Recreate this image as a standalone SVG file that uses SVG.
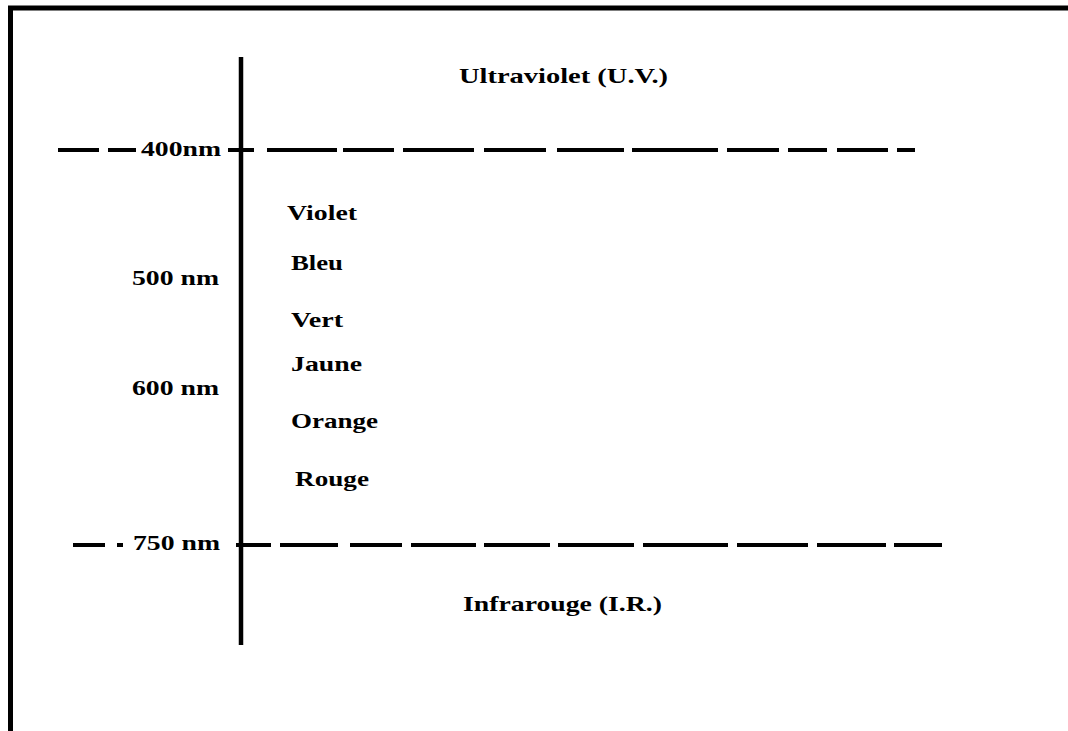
<svg xmlns="http://www.w3.org/2000/svg" width="1068" height="731" viewBox="0 0 1068 731">
<style>
.t{font-family:"Liberation Serif","Times New Roman",serif;font-weight:bold;font-size:22px;fill:#000}
.ln{stroke:#000;fill:none;stroke-linecap:butt}
</style>
<rect width="1068" height="731" fill="#fff"/>
<g id="frame">
<path class="ln" d="M10.5,731 V8 H1068" stroke-width="5"/>
</g>
<g id="connectors">
<path id="axis" class="ln" stroke-width="4.5" stroke-linecap="round" d="M241,57 V645"/>
<path id="line-400" class="ln" stroke-width="4" d="M58,150 H99 M108,150 H136 M228,150 H254 M267,150 H337 M343,150 H394 M403,150 H474 M484,150 H546 M557,150 H624 M632,150 H718 M727,150 H779 M788,150 H827 M837,150 H888 M897,150 H915"/>
<path id="line-750" class="ln" stroke-width="4" d="M73,545 H105 M117,545 H123 M236,545 H271 M280,545 H338 M350,545 H402 M411,545 H476 M484,545 H550 M558,545 H634 M643,545 H728 M737,545 H808 M817,545 H886 M894,545 H942"/>
</g>
<g id="uv"><text class="t" x="459" y="83" textLength="209" lengthAdjust="spacingAndGlyphs">Ultraviolet (U.V.)</text></g>
<g id="lbl-400"><text class="t" x="141" y="156" textLength="80" lengthAdjust="spacingAndGlyphs">400nm</text></g>
<g id="lbl-500"><text class="t" x="132" y="285" textLength="87" lengthAdjust="spacingAndGlyphs">500 nm</text></g>
<g id="lbl-600"><text class="t" x="132" y="395" textLength="87" lengthAdjust="spacingAndGlyphs">600 nm</text></g>
<g id="lbl-750"><text class="t" x="133" y="550" textLength="87" lengthAdjust="spacingAndGlyphs">750 nm</text></g>
<g id="violet"><text class="t" x="287" y="220" textLength="70" lengthAdjust="spacingAndGlyphs">Violet</text></g>
<g id="bleu"><text class="t" x="291" y="270" textLength="52" lengthAdjust="spacingAndGlyphs">Bleu</text></g>
<g id="vert"><text class="t" x="291" y="327" textLength="52" lengthAdjust="spacingAndGlyphs">Vert</text></g>
<g id="jaune"><text class="t" x="291" y="371" textLength="71" lengthAdjust="spacingAndGlyphs">Jaune</text></g>
<g id="orange"><text class="t" x="291" y="428" textLength="87" lengthAdjust="spacingAndGlyphs">Orange</text></g>
<g id="rouge"><text class="t" x="295" y="486" textLength="74" lengthAdjust="spacingAndGlyphs">Rouge</text></g>
<g id="ir"><text class="t" x="463" y="611" textLength="199" lengthAdjust="spacingAndGlyphs">Infrarouge (I.R.)</text></g>
</svg>
